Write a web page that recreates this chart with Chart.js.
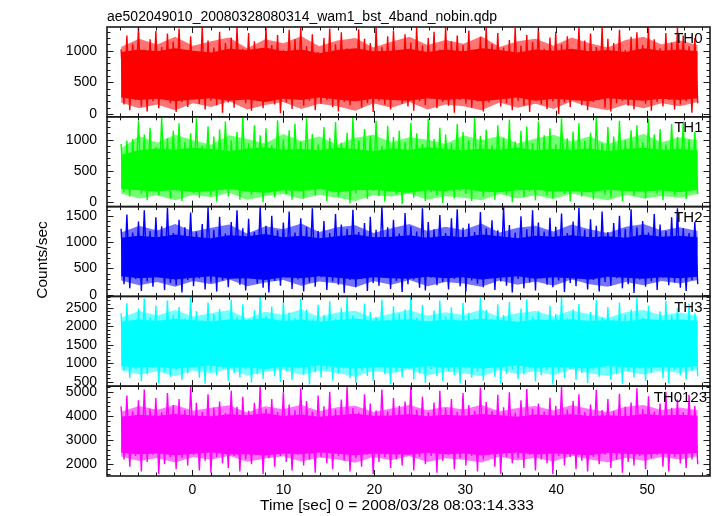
<!DOCTYPE html>
<html><head><meta charset="utf-8">
<script src="https://cdn.jsdelivr.net/npm/chart.js@4"></script>
<style>html,body{margin:0;padding:0;background:#fff}</style>
</head><body>
<canvas id="c" width="717" height="516"></canvas>
<script>
// sampling grid of the light curves (seconds from 2008/03/28 08:03:14.333)
const T_START = -7.85, T_STEP = 0.3186;     // spike samples
const CORE_STEP = 1.98125;                    // envelope samples
const bandNames = ['TH0', 'TH1', 'TH2', 'TH3', 'TH0123'];
const bandColors = ['#ff0000', '#00ff00', '#0000ff', '#00ffff', '#ff00ff'];
const fuzzColors = ['rgba(255,0,0,0.55)', 'rgba(0,255,0,0.55)', 'rgba(0,0,255,0.55)', 'rgba(0,255,255,0.55)', 'rgba(255,0,255,0.55)'];
const xTickValues = [0, 10, 20, 30, 40, 50];
const yTickValues = [[0, 500, 1000], [0, 500, 1000], [0, 500, 1000, 1500], [500, 1000, 1500, 2000, 2500], [2000, 3000, 4000, 5000]];
const yMin = [-45, -70, -33, 384, 1516];
const yMax = [1375, 1365, 1672, 2804, 5235];
const yMajor = [500, 500, 500, 500, 1000];
const yMinor = [100, 100, 100, 100, 200];

// ---- TH0 ----
const th0 = [
1020,150,1240,60,1110,220,1370,120,990,40,1180,200,1310,90,1060,240,1270,170,1140,30,
1350,190,1000,110,1230,230,970,160,1370,70,1160,210,1050,140,1300,20,1120,180,1210,100,
1370,220,1030,170,1280,50,1150,240,990,90,1370,200,1090,150,1250,10,1010,180,1330,80,
1180,230,1370,130,1070,210,1260,60,980,160,1200,220,1350,110,1100,40,1290,190,1040,140,
1000,250,1340,100,1190,170,1120,30,1370,210,1060,150,1230,70,1310,230,1010,160,1260,120,
1130,50,1370,200,1080,140,1200,240,1300,90,1020,190,1370,130,1150,20,1240,220,1090,160,
1320,100,1000,200,1220,40,1370,180,1110,230,1280,120,1050,170,1170,60,1360,210,1080,130,
1250,30,1140,240,1350,150,1030,80,1210,200,1300,0,1100,180,1230,110,980,230,1370,140,
1160,60,1270,190,1060,220,1370,100,1190,40,1120,170,1330,210,1010,130,1220,70,1290,240,
1090,160,1370,50,1180,190,1040,120,1280,220,1130,70,1360,150,1240,200,1070,20,1200,170];
const th0CoreHi = [980,1020,990,1040,1000,970,1030,1010,1050,990,1020,960,1010,1040,990,1000,1030,980,1020,990,1040,1010,970,1020,1000,1030,990,1010,980,1040,1000,1020,990];
const th0CoreLo = [260,220,240,200,230,250,210,230,190,240,220,260,230,200,240,220,210,250,220,240,200,230,260,210,240,220,200,250,230,210,240,220,250];
const th0FuzzHi = [1060,1190,1100,1220,1080,1150,1210,1040,1180,1120,1230,1070,1160,1200,1050,1140,1220,1090,1170,1110,1230,1060,1150,1190,1080,1210,1120,1050,1170,1220,1100,1160,1090];
const th0FuzzLo = [180,90,150,60,170,110,200,70,140,190,80,160,120,50,170,100,190,70,150,120,60,180,100,160,80,200,110,60,150,90,170,120,190];

// ---- TH1 ----
const th1 = [
930,160,980,90,1010,220,1300,130,1080,30,1190,200,880,110,1350,240,1020,60,1140,180,
1260,20,960,200,1100,140,1340,70,900,230,1210,120,1050,10,1160,190,1290,90,990,250,
1120,40,1360,170,940,120,1230,220,1070,0,1180,150,910,80,1310,210,1000,130,1150,40,
1250,230,970,60,1340,180,1090,110,920,240,1200,20,1030,160,1280,90,950,200,1110,-20,
1360,140,990,230,1170,50,1060,180,1300,100,900,10,1220,220,1040,130,1140,-30,960,190,
1270,70,1100,240,930,20,1330,160,1010,110,1190,-10,1080,210,940,60,1250,180,1120,130,
990,20,1350,230,1060,90,1160,170,910,40,1230,200,1030,120,1320,0,970,250,1140,80,
1210,170,950,30,1290,220,1070,110,1180,60,920,240,1340,130,1020,10,1130,200,1260,90,
980,160,1110,40,1360,230,940,120,1200,70,1050,210,1300,20,990,180,1150,100,1230,250,
960,60,1330,190,1080,140,1170,30,920,220,1250,110,1040,170,1290,50,1000,200,1120,130];
const th1CoreHi = [760,830,860,840,870,850,820,860,880,840,850,830,870,850,820,860,840,880,850,830,860,840,870,830,850,840,860,820,850,870,840,850,830];
const th1CoreLo = [210,190,170,200,160,180,210,170,150,190,180,210,160,190,200,170,150,190,180,210,170,160,190,200,170,180,160,200,180,170,190,160,200];
const th1FuzzHi = [860,1060,950,1080,990,920,1070,1010,940,1090,980,1050,920,1030,1080,960,1040,1000,930,1070,990,1060,940,1020,1080,970,1050,930,1010,1090,960,1040,990];
const th1FuzzLo = [140,60,110,30,120,80,150,40,100,130,50,120,70,20,110,90,140,40,100,70,30,130,60,110,50,140,80,30,120,60,100,70,130];

// ---- TH2 ----
const th2 = [
1250,200,1520,120,1180,300,1390,70,1600,250,1210,150,1470,330,1300,90,1650,220,1170,180,
1420,40,1280,280,1560,160,1200,310,1340,100,1660,230,1230,60,1480,270,1160,140,1380,320,
1600,190,1260,80,1440,300,1190,210,1670,130,1310,40,1500,260,1220,170,1370,320,1580,110,
1180,290,1450,60,1290,230,1640,150,1210,330,1400,90,1170,250,1530,190,1330,30,1250,280,
1610,140,1190,310,1360,70,1480,220,1230,170,1670,340,1280,110,1420,260,1160,50,1550,200,
1300,290,1200,130,1640,80,1380,320,1240,180,1510,240,1170,100,1450,300,1620,160,1270,60,
1350,270,1190,210,1570,140,1260,330,1410,90,1220,250,1660,170,1320,40,1180,300,1490,120,
1240,230,1600,80,1370,310,1200,190,1460,140,1290,270,1540,50,1170,220,1390,160,1650,320,
1230,100,1430,280,1310,60,1580,240,1190,170,1360,310,1500,120,1250,200,1620,30,1280,290,
1400,150,1180,250,1530,90,1330,320,1210,180,1470,230,1640,130,1260,70,1170,280,1380,200];
const th2CoreHi = [1080,1120,1090,1140,1100,1070,1130,1110,1150,1090,1120,1070,1110,1140,1090,1100,1130,1080,1120,1090,1140,1110,1070,1120,1100,1130,1090,1110,1080,1140,1100,1120,1090];
const th2CoreLo = [350,310,330,290,320,350,300,310,280,330,310,350,320,290,330,310,300,340,310,330,290,320,350,300,330,310,290,340,320,300,330,310,340];
const th2FuzzHi = [1180,1310,1220,1340,1200,1270,1330,1160,1300,1240,1350,1190,1280,1320,1170,1260,1340,1210,1290,1230,1350,1180,1270,1310,1200,1330,1240,1170,1290,1340,1220,1280,1210];
const th2FuzzLo = [270,180,240,150,260,200,290,160,230,280,170,250,210,140,260,190,280,160,240,210,150,270,190,250,170,290,200,150,240,180,260,210,280];

// ---- TH3 ----
const th3 = [
2350,800,2620,600,2180,850,2480,520,2750,700,2240,880,2560,470,2130,760,2690,640,2300,820,
2520,550,2200,730,2780,890,2410,610,2160,450,2640,780,2330,680,2470,860,2120,530,2710,740,
2260,620,2590,840,2190,480,2430,710,2800,580,2280,870,2530,650,2150,500,2660,790,2370,560,
2220,880,2740,690,2450,430,2170,760,2580,620,2310,850,2680,540,2200,720,2500,880,2790,600,
2290,470,2150,810,2610,660,2390,530,2250,870,2720,710,2180,440,2540,770,2340,620,2460,890,
2800,570,2230,730,2570,480,2140,840,2420,650,2690,520,2270,800,2510,690,2160,460,2630,860,
2360,610,2200,770,2760,540,2440,880,2180,640,2590,450,2300,720,2650,830,2130,580,2480,700,
2720,880,2260,510,2410,680,2170,820,2550,430,2330,760,2790,600,2210,850,2460,550,2600,740,
2150,470,2380,820,2700,640,2240,900,2520,560,2190,710,2640,450,2310,790,2450,620,2770,860,
2230,530,2560,740,2170,880,2400,600,2680,470,2280,820,2500,680,2140,560,2610,800,2350,650];
const th3CoreHi = [2120,2180,2150,2200,2160,2130,2190,2170,2220,2140,2180,2120,2170,2210,2150,2160,2190,2130,2180,2150,2200,2170,2120,2180,2160,2190,2140,2170,2130,2200,2160,2180,2150];
const th3CoreLo = [930,890,910,860,900,940,880,890,850,910,890,940,900,860,910,890,870,930,890,910,860,900,940,880,910,890,860,930,900,880,910,890,930];
const th3FuzzHi = [2230,2410,2290,2440,2260,2360,2430,2210,2390,2310,2450,2250,2370,2420,2220,2340,2440,2280,2380,2300,2450,2240,2350,2410,2260,2430,2320,2220,2380,2440,2290,2370,2280];
const th3FuzzLo = [820,700,790,650,810,730,850,670,770,830,690,800,740,640,810,720,840,670,780,730,650,820,710,790,680,850,730,660,790,700,810,740,830];

// ---- TH0123 ----
const th0123 = [
4400,2200,4850,1900,4200,2350,4650,1700,5100,2100,4300,2400,4750,1600,4150,2000,4950,2300,4450,1800,
4700,2250,4250,1950,5200,2400,4550,1750,4180,2150,4900,1650,4350,2300,4600,2050,4120,1850,5050,2350,
4380,1700,4800,2200,4220,2000,4550,2400,5230,1600,4300,2250,4700,1900,4160,2350,4980,2100,4480,1750,
4250,2400,5150,1950,4620,2200,4190,1650,4850,2300,4400,2050,5000,1800,4280,2350,4680,2150,5220,1700,
4330,2250,4140,1900,4900,2400,4520,1600,4240,2100,5100,2300,4200,1850,4750,2200,4420,1950,4600,2400,
5230,1750,4260,2300,4800,2000,4150,2350,4560,1650,5050,2150,4320,2400,4700,1800,4180,2250,4950,1950,
4450,2350,4230,1700,5180,2200,4580,2400,4210,1900,4880,1600,4360,2300,4980,2050,4130,2250,4650,1850,
5120,2400,4300,1750,4520,2200,4190,2050,4760,1600,4420,2350,5200,1950,4270,2300,4620,1800,4900,2150,
4160,1700,4480,2300,5080,2000,4250,2400,4700,1850,4200,2200,4920,1650,4380,2100,4560,1950,5150,2350,
4290,1800,4820,2250,4170,2400,4520,1900,5000,1700,4340,2300,4680,2050,4150,1850,4880,2200,4410,2000];
const th0123CoreHi = [3970,4050,4010,4080,4020,3990,4070,4030,4110,4000,4060,3970,4030,4090,4010,4020,4070,3990,4050,4010,4080,4030,3970,4060,4020,4070,4000,4030,3990,4080,4020,4050,4010];
const th0123CoreLo = [2480,2420,2450,2380,2440,2490,2410,2420,2370,2450,2420,2490,2440,2380,2450,2420,2400,2480,2420,2450,2380,2440,2490,2410,2450,2420,2380,2480,2440,2410,2450,2420,2480];
const th0123FuzzHi = [4180,4420,4260,4460,4220,4340,4450,4150,4400,4280,4470,4200,4360,4430,4170,4310,4460,4240,4380,4270,4470,4190,4330,4420,4230,4450,4290,4160,4380,4460,4250,4350,4240];
const th0123FuzzLo = [2320,2140,2260,2080,2300,2190,2350,2110,2240,2330,2120,2280,2200,2060,2300,2170,2340,2100,2250,2190,2080,2320,2160,2270,2120,2350,2200,2090,2270,2150,2300,2200,2330];

const spikeSeries = [th0, th1, th2, th3, th0123];
const coreHiSeries = [th0CoreHi, th1CoreHi, th2CoreHi, th3CoreHi, th0123CoreHi];
const coreLoSeries = [th0CoreLo, th1CoreLo, th2CoreLo, th3CoreLo, th0123CoreLo];
const fuzzHiSeries = [th0FuzzHi, th1FuzzHi, th2FuzzHi, th3FuzzHi, th0123FuzzHi];
const fuzzLoSeries = [th0FuzzLo, th1FuzzLo, th2FuzzLo, th3FuzzLo, th0123FuzzLo];

const FONT = '"Liberation Sans", Arial, sans-serif';
const pts = (arr, step) => arr.map((v, i) => ({x: T_START + i * step, y: v}));

const datasets = [];
for (let p = 0; p < 5; p++) {
  const c = bandColors[p], ax = 'y' + p;
  // drawn last (on top): dense core
  datasets.push({label: bandNames[p] + ' core hi', data: pts(coreHiSeries[p], CORE_STEP), yAxisID: ax,
    borderWidth: 0, borderColor: c, pointRadius: 0, fill: false, tension: 0});
  datasets.push({label: bandNames[p] + ' core lo', data: pts(coreLoSeries[p], CORE_STEP), yAxisID: ax,
    borderWidth: 0, borderColor: c, backgroundColor: c, pointRadius: 0, fill: '-1', tension: 0});
  // individual excursions
  datasets.push({label: bandNames[p], data: pts(spikeSeries[p], T_STEP), yAxisID: ax,
    borderWidth: 1.4, borderColor: c, pointRadius: 0, fill: false, tension: 0});
  // drawn first: fuzzy outer envelope
  datasets.push({label: bandNames[p] + ' env hi', data: pts(fuzzHiSeries[p], CORE_STEP), yAxisID: ax,
    borderWidth: 0, borderColor: fuzzColors[p], pointRadius: 0, fill: false, tension: 0});
  datasets.push({label: bandNames[p] + ' env lo', data: pts(fuzzLoSeries[p], CORE_STEP), yAxisID: ax,
    borderWidth: 0, borderColor: fuzzColors[p], backgroundColor: fuzzColors[p], pointRadius: 0, fill: '-1', tension: 0});
}

const scales = {
  x: {type: 'linear', position: 'bottom', min: -9.4, max: 56.9,
    grid: {display: false, drawTicks: false}, border: {display: false},
    afterBuildTicks: s => { s.ticks = xTickValues.map(v => ({value: v})); },
    ticks: {font: {family: FONT, size: 14}, color: '#000', padding: 6, maxRotation: 0, autoSkip: false,
      callback: v => String(v)},
    afterFit: s => { s.height = 40; }}
};
// stacked panels: defined bottom-up so that TH0 ends on top
for (let p = 4; p >= 0; p--) {
  scales['y' + p] = {type: 'linear', position: 'left', stack: 'panels', stackWeight: 1,
    min: yMin[p], max: yMax[p], grid: {display: false, drawTicks: false}, border: {display: false},
    afterBuildTicks: s => { s.ticks = yTickValues[p].map(v => ({value: v})); },
    ticks: {font: {family: FONT, size: 14}, color: '#000', padding: 10, autoSkip: false,
      callback: v => String(v)},
    afterFit: s => { s.width = 107; }};
}

const decor = {
  id: 'decor',
  afterDatasetsDraw(chart) {
    const {ctx, chartArea: ca, scales: sc} = chart;
    const xs = sc.x;
    ctx.save();
    ctx.strokeStyle = '#1a1a1a';
    for (let p = 0; p < 5; p++) {
      const ys = sc['y' + p];
      const top = ys.top, bot = ys.bottom;
      ctx.lineWidth = 1;
      ctx.beginPath();
      const mn = yMinor[p], mj = yMajor[p];
      for (let v = Math.ceil(yMin[p] / mn) * mn; v <= yMax[p]; v += mn) {
        const y = Math.round(ys.getPixelForValue(v)) + 0.5;
        const len = (v % mj === 0) ? 6.5 : 3.5;
        ctx.moveTo(ca.left, y); ctx.lineTo(ca.left + len, y);
        ctx.moveTo(ca.right, y); ctx.lineTo(ca.right - len, y);
      }
      for (let v = -8; v <= 56; v += 2) {
        const x = Math.round(xs.getPixelForValue(v)) + 0.5;
        const len = (v % 10 === 0) ? 6 : 3.5;
        ctx.moveTo(x, top); ctx.lineTo(x, top + len);
        ctx.moveTo(x, bot); ctx.lineTo(x, bot - len);
      }
      ctx.stroke();
      ctx.lineWidth = 1.6;
      ctx.strokeRect(ca.left, top, ca.right - ca.left, bot - top);
      ctx.fillStyle = '#000';
      ctx.font = '15px ' + FONT;
      ctx.textAlign = 'right';
      ctx.textBaseline = 'alphabetic';
      ctx.fillText(bandNames[p], p === 4 ? 707 : 702.5, top + 15.5);
    }
    ctx.fillStyle = '#000';
    ctx.font = '14px ' + FONT;
    ctx.textAlign = 'left';
    ctx.fillText('ae502049010_20080328080314_wam1_bst_4band_nobin.qdp', 107, 20.5);
    ctx.font = '15.5px ' + FONT;
    ctx.textAlign = 'center';
    ctx.fillText('Time [sec] 0 = 2008/03/28 08:03:14.333', 397, 509.5);
    ctx.translate(46.5, 260);
    ctx.rotate(-Math.PI / 2);
    ctx.fillText('Counts/sec', 0, 0);
    ctx.restore();
  }
};

new Chart(document.getElementById('c'), {
  type: 'line',
  data: {datasets},
  options: {
    responsive: false, animation: false, devicePixelRatio: 1,
    parsing: false, normalized: true,
    layout: {padding: {left: 0, right: 7, top: 27, bottom: 0}},
    plugins: {legend: {display: false}, title: {display: false}, tooltip: {enabled: false}},
    events: [],
    scales
  },
  plugins: [decor]
});
</script>
</body></html>
